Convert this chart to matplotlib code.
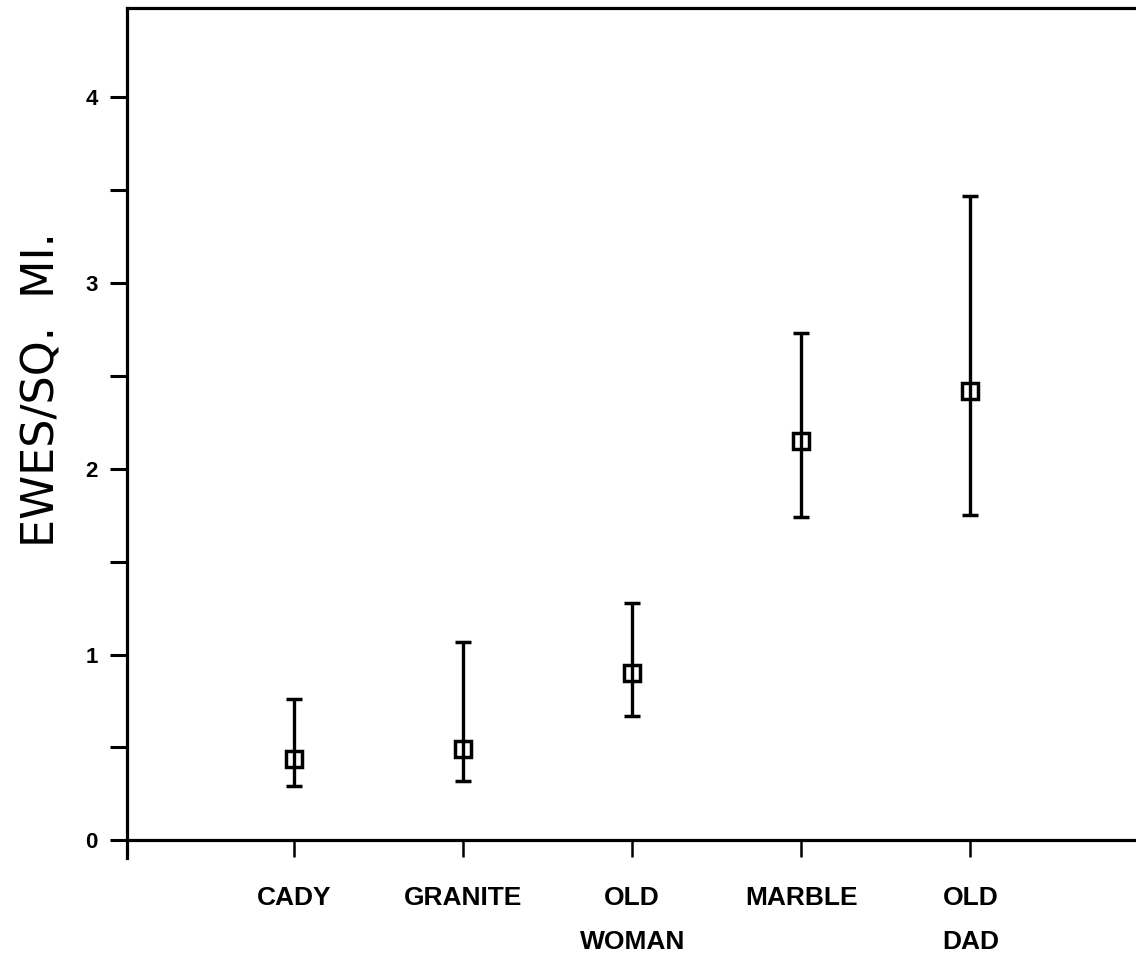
import numpy as np
import matplotlib.pyplot as plt
from matplotlib.ticker import MultipleLocator

# ewe density by area (mean with low/high bounds)
areas = ["CADY", "GRANITE", "OLD\nWOMAN", "MARBLE", "OLD\nDAD"]
means = np.array([0.44, 0.49, 0.90, 2.15, 2.42])
lows = np.array([0.29, 0.32, 0.67, 1.74, 1.75])
highs = np.array([0.76, 1.07, 1.28, 2.73, 3.47])

narrow = ["Liberation Sans Narrow", "Liberation Sans", "DejaVu Sans"]

fig = plt.figure(figsize=(11.36, 9.57), dpi=100)
ax = fig.add_axes([127 / 1136, 99 / 957, 1 - 127 / 1136, (858 - 8) / 957])

x = np.arange(1, len(areas) + 1)
ax.errorbar(x, means, yerr=[means - lows, highs - means], fmt="s",
            ms=11, mfc="none", mec="black", mew=2.5,
            ecolor="black", elinewidth=2.4, capsize=6, capthick=2.8, color="black")

ax.set_xlim(0.012, 5.98)
ax.set_ylim(-0.095, 4.48)

ax.spines["right"].set_visible(False)
ax.spines["bottom"].set_position(("data", 0))
for s in ["left", "bottom", "top"]:
    ax.spines[s].set_linewidth(2.3)

ax.yaxis.set_major_locator(MultipleLocator(1))
ax.yaxis.set_minor_locator(MultipleLocator(0.5))
ax.set_yticks([0, 1, 2, 3, 4])
ax.set_yticklabels(["0", "1", "2", "3", "4"], family=narrow, fontweight="bold", fontsize=16)
ax.tick_params(axis="y", which="both", direction="out", length=12, width=2.2, pad=9)

ax.set_xticks(x)
ax.set_xticklabels(areas, family=narrow, fontweight="bold", fontsize=19,
                   linespacing=2.05, multialignment="center")
ax.tick_params(axis="x", direction="out", length=12, width=1.8, pad=21)

fig.text(42 / 1136, 1 - 390 / 957, "EWES/SQ.  MI.", rotation=90,
         ha="center", va="center", fontsize=32, family="DejaVu Sans")

fig.savefig("out.png", dpi=100)
